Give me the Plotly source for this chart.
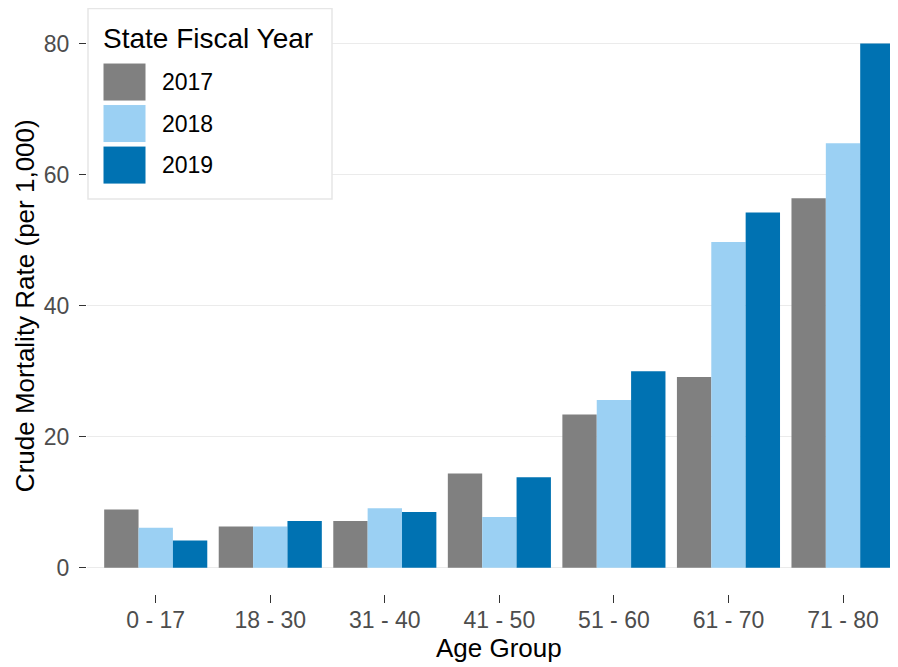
import plotly.graph_objects as go

age_groups = ["0 - 17", "18 - 30", "31 - 40", "41 - 50", "51 - 60", "61 - 70", "71 - 80"]
years = ["2017", "2018", "2019"]
rate_2017 = [8.9, 6.3, 7.15, 14.4, 23.4, 29.1, 56.4]
rate_2018 = [6.1, 6.3, 9.1, 7.75, 25.6, 49.7, 64.8]
rate_2019 = [4.15, 7.15, 8.5, 13.8, 30.0, 54.2, 80.0]
colors = ["#808080", "#9BD0F3", "#0072B2"]
y_ticks = [0, 20, 40, 60, 80]

# page offset introduced by the default body margin
OFF = 8
W, H = 898 - OFF, 667 - OFF
# target panel in page pixels: left 87, right 898, top 18, bottom 593.7
ML = 87 - OFF
MR = 0
MT = 18 - OFF
MB = 667 - 593.7
PW, PH = W - ML - MR, H - MT - MB

def px_x(p):
    return (p - OFF - ML) / PW

def px_y(p):
    return (H - MB - (p - OFF)) / PH

fig = go.Figure()
for name, vals, col in zip(years, [rate_2017, rate_2018, rate_2019], colors):
    fig.add_trace(go.Bar(x=list(range(len(age_groups))), y=vals, name=name,
                         marker=dict(color=col, line=dict(width=0)),
                         showlegend=False))

FONT = "Liberation Sans, Arial, sans-serif"

fig.update_layout(
    width=W, height=H,
    margin=dict(l=ML, r=MR, t=MT, b=MB, pad=0),
    paper_bgcolor="white", plot_bgcolor="white",
    barmode="group", bargap=0.1, bargroupgap=0,
    font=dict(family=FONT, color="#000000"),
    xaxis=dict(
        range=[-0.6, 6.48], tickmode="array",
        tickvals=list(range(len(age_groups))), ticktext=age_groups,
        showgrid=False, zeroline=False, showline=False,
        ticks="outside", ticklen=8, tickwidth=1.2, tickcolor="#333333",
        tickfont=dict(size=23, color="#4D4D4D", family=FONT),
        ticklabelstandoff=-3,
    ),
    yaxis=dict(
        range=[-4.0, 83.9], tickmode="array", tickvals=y_ticks,
        showgrid=True, gridcolor="#EBEBEB", gridwidth=1.2,
        zeroline=False, showline=False,
        ticks="outside", ticklen=7, tickwidth=1.2, tickcolor="#333333",
        tickfont=dict(size=23, color="#4D4D4D", family=FONT),
        ticklabelstandoff=5,
    ),
)

# axis titles
fig.add_annotation(text="Age Group", xref="paper", yref="paper",
                   x=px_x(499), y=px_y(648), xanchor="center", yanchor="middle",
                   showarrow=False, font=dict(size=26, color="#000000", family=FONT))
fig.add_annotation(text="Crude Mortality Rate (per 1,000)", xref="paper", yref="paper",
                   x=px_x(25), y=px_y(306), xanchor="center", yanchor="middle",
                   textangle=-90, showarrow=False,
                   font=dict(size=26, color="#000000", family=FONT))

# custom legend box (ggplot-style large keys)
fig.add_shape(type="rect", xref="paper", yref="paper",
              x0=px_x(88), x1=px_x(332), y0=px_y(199), y1=px_y(8.5),
              fillcolor="white", line=dict(color="#E6E6E6", width=1.5), layer="above")
fig.add_annotation(text="State Fiscal Year", xref="paper", yref="paper",
                   x=px_x(101), y=px_y(38), xanchor="left", yanchor="middle",
                   showarrow=False, font=dict(size=28, color="#000000", family=FONT))
key_top, key_h, key_step = 63, 38, 41.5
for i, (name, col) in enumerate(zip(years, colors)):
    t = key_top + i * key_step
    fig.add_shape(type="rect", xref="paper", yref="paper",
                  x0=px_x(103), x1=px_x(146), y0=px_y(t + key_h), y1=px_y(t),
                  fillcolor=col, line=dict(color="white", width=1), layer="above")
    fig.add_annotation(text=name, xref="paper", yref="paper",
                       x=px_x(160), y=px_y(t + key_h / 2), xanchor="left", yanchor="middle",
                       showarrow=False, font=dict(size=23, color="#000000", family=FONT))

fig.write_html("out.html")
